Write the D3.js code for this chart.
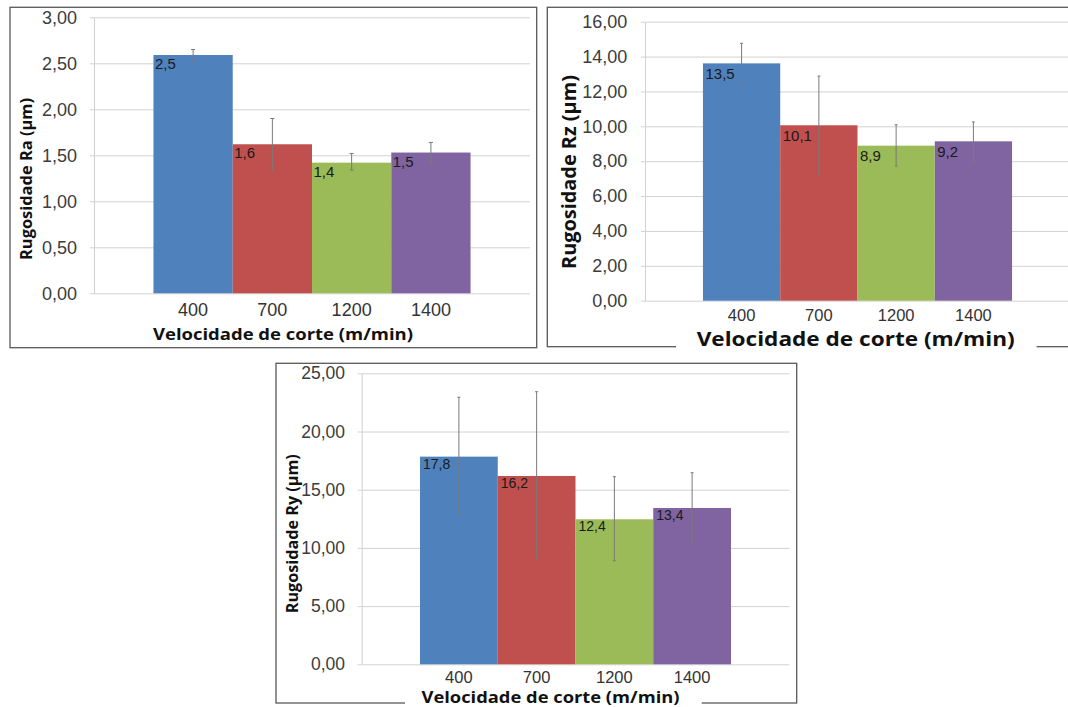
<!DOCTYPE html>
<html>
<head>
<meta charset="utf-8">
<script src="https://cdn.jsdelivr.net/npm/d3@7"></script>
<style>
  html, body { margin: 0; padding: 0; background: #fff; }
  svg { display: block; }
</style>
</head>
<body>
<script>
// categorias (velocidade de corte)
var categories = ['400', '700', '1200', '1400'];
var barColors = ['#4f81bd', '#c0504d', '#9bbb59', '#8064a2'];

// Ra
var raValues = [2.59, 1.62, 1.42, 1.53];
var raLabels = ['2,5', '1,6', '1,4', '1,5'];
var raErrLow = [2.52, 1.34, 1.34, 1.42];
var raErrHigh = [2.65, 1.90, 1.52, 1.64];
var raTicks = [0, 0.5, 1, 1.5, 2, 2.5, 3];

// Rz
var rzValues = [13.61, 10.06, 8.89, 9.14];
var rzLabels = ['13,5', '10,1', '8,9', '9,2'];
var rzErrLow = [12.47, 7.21, 7.72, 8.01];
var rzErrHigh = [14.76, 12.88, 10.09, 10.25];
var rzTicks = [0, 2, 4, 6, 8, 10, 12, 14, 16];

// Ry
var ryValues = [17.84, 16.18, 12.46, 13.43];
var ryLabels = ['17,8', '16,2', '12,4', '13,4'];
var ryErrLow = [12.89, 9.10, 8.90, 10.45];
var ryErrHigh = [22.94, 23.42, 16.12, 16.46];
var ryTicks = [0, 5, 10, 15, 20, 25];

var xTitle = 'Velocidade de corte (m/min)';

var tickFont = '"Liberation Sans", Arial, sans-serif';
var titleFont = '"Open Sans", "Liberation Sans", sans-serif';

// layout of the three panels
var panels = [
    {
        values: raValues, labels: raLabels, errLow: raErrLow, errHigh: raErrHigh, ticks: raTicks,
        yTitle: 'Rugosidade Ra (µm)',
        frame: {x0: 10, y0: 7.3, x1: 536.7, y1: 347.7},
        axisX: 94, right: 530, yTop: 17.3, y0: 293.3,
        tickPad: 17, tickSize: 18, catSize: 18, catOffset: 23,
        labelSize: 15, labelDx: 1.5, labelDy: 14, cap: 2,
        xt: {x: 283, y: 340, size: 16.5, len: 260, gap: null},
        yt: {x: 25, y: 179, size: 16.5, len: 162}
    },
    {
        values: rzValues, labels: rzLabels, errLow: rzErrLow, errHigh: rzErrHigh, ticks: rzTicks,
        yTitle: 'Rugosidade Rz (µm)',
        frame: {x0: 547.3, y0: 7.3, x1: 1090, y1: 346.7},
        axisX: 645, right: 1070, yTop: 21.7, y0: 300.7,
        tickPad: 17.7, tickSize: 18, catSize: 16.5, catOffset: 20,
        labelSize: 15, labelDx: 2.5, labelDy: 15.5, cap: 1.5,
        xt: {x: 855.7, y: 346, size: 20, len: 318, gap: [676, 1036.6]},
        yt: {x: 568, y: 172, size: 20, len: 194}
    },
    {
        values: ryValues, labels: ryLabels, errLow: ryErrLow, errHigh: ryErrHigh, ticks: ryTicks,
        yTitle: 'Rugosidade Ry (µm)',
        frame: {x0: 276, y0: 363.3, x1: 796.7, y1: 703},
        axisX: 361.7, right: 789.3, yTop: 373.3, y0: 664.3,
        tickPad: 16.7, tickSize: 17.5, catSize: 16.5, catOffset: 18.5,
        labelSize: 14, labelDx: 3, labelDy: 12, cap: 1.5,
        xt: {x: 550.5, y: 703, size: 15.5, len: 258, gap: [405, 701.7]},
        yt: {x: 291.7, y: 533.7, size: 16.5, len: 159}
    }
];

function fmtTick(d){
    return d3.format('.2f')(d).replace('.', ',');
}

var svg = d3.select('body').append('svg')
    .attr('width', 1068)
    .attr('height', 707);

panels.forEach(function(p){
    var g = svg.append('g');
    var f = p.frame;

    // chart frame
    g.append('rect')
        .attr('x', f.x0).attr('y', f.y0)
        .attr('width', f.x1 - f.x0).attr('height', f.y1 - f.y0)
        .attr('fill', '#fff')
        .attr('stroke', '#595959')
        .attr('stroke-width', 1.3);

    var y = d3.scaleLinear()
        .domain([0, d3.max(p.ticks)])
        .range([p.y0, p.yTop]);

    var x = d3.scaleBand()
        .domain(categories)
        .range([p.axisX, p.right])
        .paddingInner(0)
        .paddingOuter(0.75);

    // value axis + gridlines
    var yAxis = d3.axisLeft(y)
        .tickValues(p.ticks)
        .tickSizeInner(-(p.right - p.axisX))
        .tickSizeOuter(0)
        .tickPadding(p.tickPad)
        .tickFormat(fmtTick);

    var ay = g.append('g')
        .attr('transform', 'translate(' + p.axisX + ',0)')
        .call(yAxis)
        .attr('font-family', tickFont)
        .attr('font-size', p.tickSize);
    ay.select('.domain').attr('stroke', '#d0d0d0');
    ay.selectAll('.tick line').attr('x1', -4).attr('stroke', '#d2d2d2');
    ay.selectAll('.tick text').attr('fill', '#3c3c3c');

    // bars
    g.selectAll('rect.bar')
        .data(p.values)
        .join('rect')
        .attr('class', 'bar')
        .attr('x', function(d, i){ return x(categories[i]); })
        .attr('y', function(d){ return y(d); })
        .attr('width', x.bandwidth())
        .attr('height', function(d){ return p.y0 - y(d); })
        .attr('fill', function(d, i){ return barColors[i]; });

    // error bars
    var eb = g.selectAll('g.err')
        .data(p.values)
        .join('g')
        .attr('class', 'err')
        .attr('stroke', '#7a7a7a')
        .attr('stroke-width', 1);
    eb.append('line')
        .attr('x1', function(d, i){ return x(categories[i]) + x.bandwidth() / 2; })
        .attr('x2', function(d, i){ return x(categories[i]) + x.bandwidth() / 2; })
        .attr('y1', function(d, i){ return y(p.errLow[i]); })
        .attr('y2', function(d, i){ return y(p.errHigh[i]); });
    [p.errLow, p.errHigh].forEach(function(arr){
        eb.append('line')
            .attr('x1', function(d, i){ return x(categories[i]) + x.bandwidth() / 2 - p.cap; })
            .attr('x2', function(d, i){ return x(categories[i]) + x.bandwidth() / 2 + p.cap; })
            .attr('y1', function(d, i){ return y(arr[i]); })
            .attr('y2', function(d, i){ return y(arr[i]); });
    });

    // data labels
    g.selectAll('text.lbl')
        .data(p.values)
        .join('text')
        .attr('class', 'lbl')
        .attr('x', function(d, i){ return x(categories[i]) + p.labelDx; })
        .attr('y', function(d){ return y(d) + p.labelDy; })
        .attr('font-family', tickFont)
        .attr('font-size', p.labelSize)
        .attr('fill', '#1a1a1a')
        .text(function(d, i){ return p.labels[i]; });

    // category axis
    var xAxis = d3.axisBottom(x).tickSize(0).tickPadding(0);
    var ax = g.append('g')
        .attr('transform', 'translate(0,' + p.y0 + ')')
        .call(xAxis)
        .attr('font-family', tickFont)
        .attr('font-size', p.catSize);
    ax.select('.domain').remove();
    ax.selectAll('.tick text')
        .attr('dy', 0)
        .attr('y', p.catOffset)
        .attr('fill', '#333');

    // axis titles
    if (p.xt.gap) {
        g.append('rect')
            .attr('x', p.xt.gap[0]).attr('y', f.y1 - 3)
            .attr('width', p.xt.gap[1] - p.xt.gap[0]).attr('height', 6)
            .attr('fill', '#fff');
    }
    g.append('text')
        .attr('x', p.xt.x)
        .attr('y', p.xt.y)
        .attr('text-anchor', 'middle')
        .attr('font-family', titleFont)
        .attr('font-weight', 'bold')
        .attr('font-size', p.xt.size)
        .attr('textLength', p.xt.len)
        .attr('lengthAdjust', 'spacingAndGlyphs')
        .attr('fill', '#111')
        .text(xTitle);

    g.append('text')
        .attr('transform', 'translate(' + p.yt.x + ',' + p.yt.y + ') rotate(-90)')
        .attr('text-anchor', 'middle')
        .attr('dominant-baseline', 'central')
        .attr('font-family', titleFont)
        .attr('font-weight', 'bold')
        .attr('font-size', p.yt.size)
        .attr('textLength', p.yt.len)
        .attr('lengthAdjust', 'spacingAndGlyphs')
        .attr('fill', '#111')
        .text(p.yTitle);
});
</script>
</body>
</html>
